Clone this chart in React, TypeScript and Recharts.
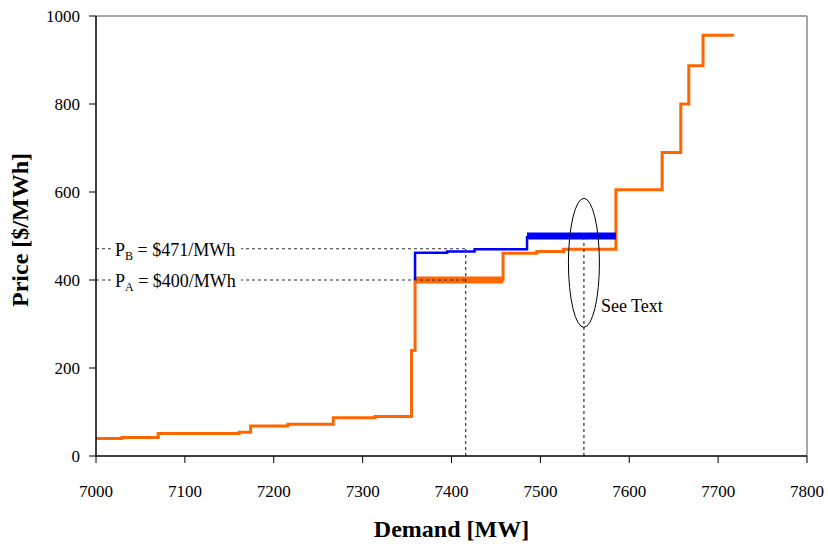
import { LineChart, Line, XAxis, YAxis, ReferenceLine, ReferenceDot } from 'recharts'

const FONT = '"Liberation Serif", "Times New Roman", serif'

// supply curve with unit A bidding $400 (orange)
const supplyMw = [7000, 7029, 7070, 7161, 7174, 7216, 7267, 7314, 7355, 7359, 7458, 7496, 7526, 7585, 7637, 7658, 7667, 7683, 7718]
const supplyPrice = [40, 42, 51, 54, 68, 72, 87, 90, 240, 400, 461, 465, 470, 605, 690, 800, 887, 956, 956]

// supply curve with unit B bidding $500 (blue)
const altMw = [7359, 7359, 7395, 7426, 7485]
const altPrice = [400, 462, 465, 470, 500]

// the two highlighted offer blocks
const bidAMw = [7359, 7458]
const bidAPrice = [400, 400]
const bidBMw = [7485, 7585]
const bidBPrice = [500, 500]

const demandTicks = [7000, 7100, 7200, 7300, 7400, 7500, 7600, 7700, 7800]
const priceTicks = [0, 200, 400, 600, 800, 1000]

const priceA = 400
const priceB = 471
const demandA = 7416
const demandB = 7549

const toPoints = (mw: number[], price: number[]) => mw.map((m, i) => ({ mw: m, price: price[i] }))

const supply = toPoints(supplyMw, supplyPrice)
const alt = toPoints(altMw, altPrice)
const bidA = toPoints(bidAMw, bidAPrice)
const bidB = toPoints(bidBMw, bidBPrice)

const renderXTick = (props: any) => {
  const { x, y, payload } = props
  return (
    <text x={x} y={y + 12} textAnchor="middle" style={{ fontFamily: FONT, fontSize: 17 }} fill="#000">
      {String(payload.value)}
    </text>
  )
}

const renderYTick = (props: any) => {
  const { x, y, payload } = props
  return (
    <text x={x} y={y + 6} textAnchor="end" style={{ fontFamily: FONT, fontSize: 17 }} fill="#000">
      {String(payload.value)}
    </text>
  )
}

const DemandTitle = (props: any) => {
  const vb = props.viewBox || { x: 96, y: 456, width: 711, height: 90 }
  return (
    <text x={vb.x + vb.width / 2} y={vb.y + vb.height - 9} textAnchor="middle" fontFamily={FONT} fontWeight="bold" fontSize={24} fill="#000">
      Demand [MW]
    </text>
  )
}

const PriceTitle = (props: any) => {
  const vb = props.viewBox || { x: 0, y: 16, width: 96, height: 440 }
  const x = 28
  const y = vb.y + vb.height / 2 - 6
  return (
    <text x={x} y={y} textAnchor="middle" transform={`rotate(-90, ${x}, ${y})`} fontFamily={FONT} fontWeight="bold" fontSize={24} fill="#000">
      Price [$/MWh]
    </text>
  )
}

const priceLabel = (sub: string, value: number) => (props: any) => {
  const { cx, cy } = props
  return (
    <g>
      <rect x={cx + 15} y={cy - 8} width={130} height={16} fill="#fff" />
      <text x={cx + 19} y={cy + 7} fontFamily={FONT} fontSize={18} fill="#000">
        P<tspan fontSize={12} dy={4}>{sub}</tspan>
        <tspan dy={-4}>{` = $${value}/MWh`}</tspan>
      </text>
    </g>
  )
}

const SeeText = (props: any) => {
  const { cx, cy } = props
  return (
    <g>
      <ellipse cx={cx} cy={cy} rx={15.5} ry={64.5} fill="none" stroke="#000" strokeWidth={1} />
      <text x={cx + 17} y={cy + 49} fontFamily={FONT} fontSize={18} fill="#000">
        See Text
      </text>
    </g>
  )
}

const dash = { stroke: '#333', strokeWidth: 1.2, strokeDasharray: '3 3' }

export default function App() {
  return (
    <div style={{ position: 'absolute', left: 0, top: 0, width: 828, height: 546, background: '#fff', fontFamily: FONT }}>
      <LineChart width={828} height={546} margin={{ top: 16, right: 21, bottom: 0, left: 0 }} style={{ fontFamily: FONT }}>
        <XAxis
          type="number"
          dataKey="mw"
          domain={[7000, 7800]}
          ticks={demandTicks}
          height={90}
          allowDataOverflow
          axisLine={{ stroke: '#000', strokeWidth: 1.5 }}
          tickLine={{ stroke: '#000' }}
          tickSize={7}
          tickMargin={22}
          tick={renderXTick}
          label={<DemandTitle />}
        />
        <YAxis
          type="number"
          dataKey="price"
          domain={[0, 1000]}
          ticks={priceTicks}
          width={96}
          allowDataOverflow
          axisLine={{ stroke: '#000', strokeWidth: 1.5 }}
          tickLine={{ stroke: '#000' }}
          tickSize={7}
          tickMargin={9}
          tick={renderYTick}
          label={<PriceTitle />}
        />
        <ReferenceLine y={1000} stroke="#a6a6a6" strokeWidth={2} />
        <ReferenceLine x={7800} stroke="#a6a6a6" strokeWidth={2} />

        <Line data={supply} dataKey="price" type="stepAfter" stroke="#ff6600" strokeWidth={3} dot={false} isAnimationActive={false} />
        <Line data={bidA} dataKey="price" type="linear" stroke="#ff6600" strokeWidth={7} dot={false} isAnimationActive={false} />
        <Line data={alt} dataKey="price" type="stepAfter" stroke="#0000ff" strokeWidth={2.5} dot={false} isAnimationActive={false} />
        <Line data={bidB} dataKey="price" type="linear" stroke="#0000ff" strokeWidth={7} dot={false} isAnimationActive={false} />

        <ReferenceLine segment={[{ x: 7000, y: priceB }, { x: demandA, y: priceB }]} {...dash} />
        <ReferenceLine segment={[{ x: 7000, y: priceA }, { x: demandA, y: priceA }]} {...dash} />
        <ReferenceLine segment={[{ x: demandA, y: 0 }, { x: demandA, y: priceB }]} {...dash} />
        <ReferenceLine segment={[{ x: demandB, y: 0 }, { x: demandB, y: 505 }]} {...dash} />

        <ReferenceDot x={7000} y={priceB} r={0} shape={priceLabel('B', priceB)} />
        <ReferenceDot x={7000} y={priceA} r={0} shape={priceLabel('A', priceA)} />
        <ReferenceDot x={demandB} y={439} r={0} shape={(p: any) => <SeeText {...p} />} />
      </LineChart>
    </div>
  )
}
